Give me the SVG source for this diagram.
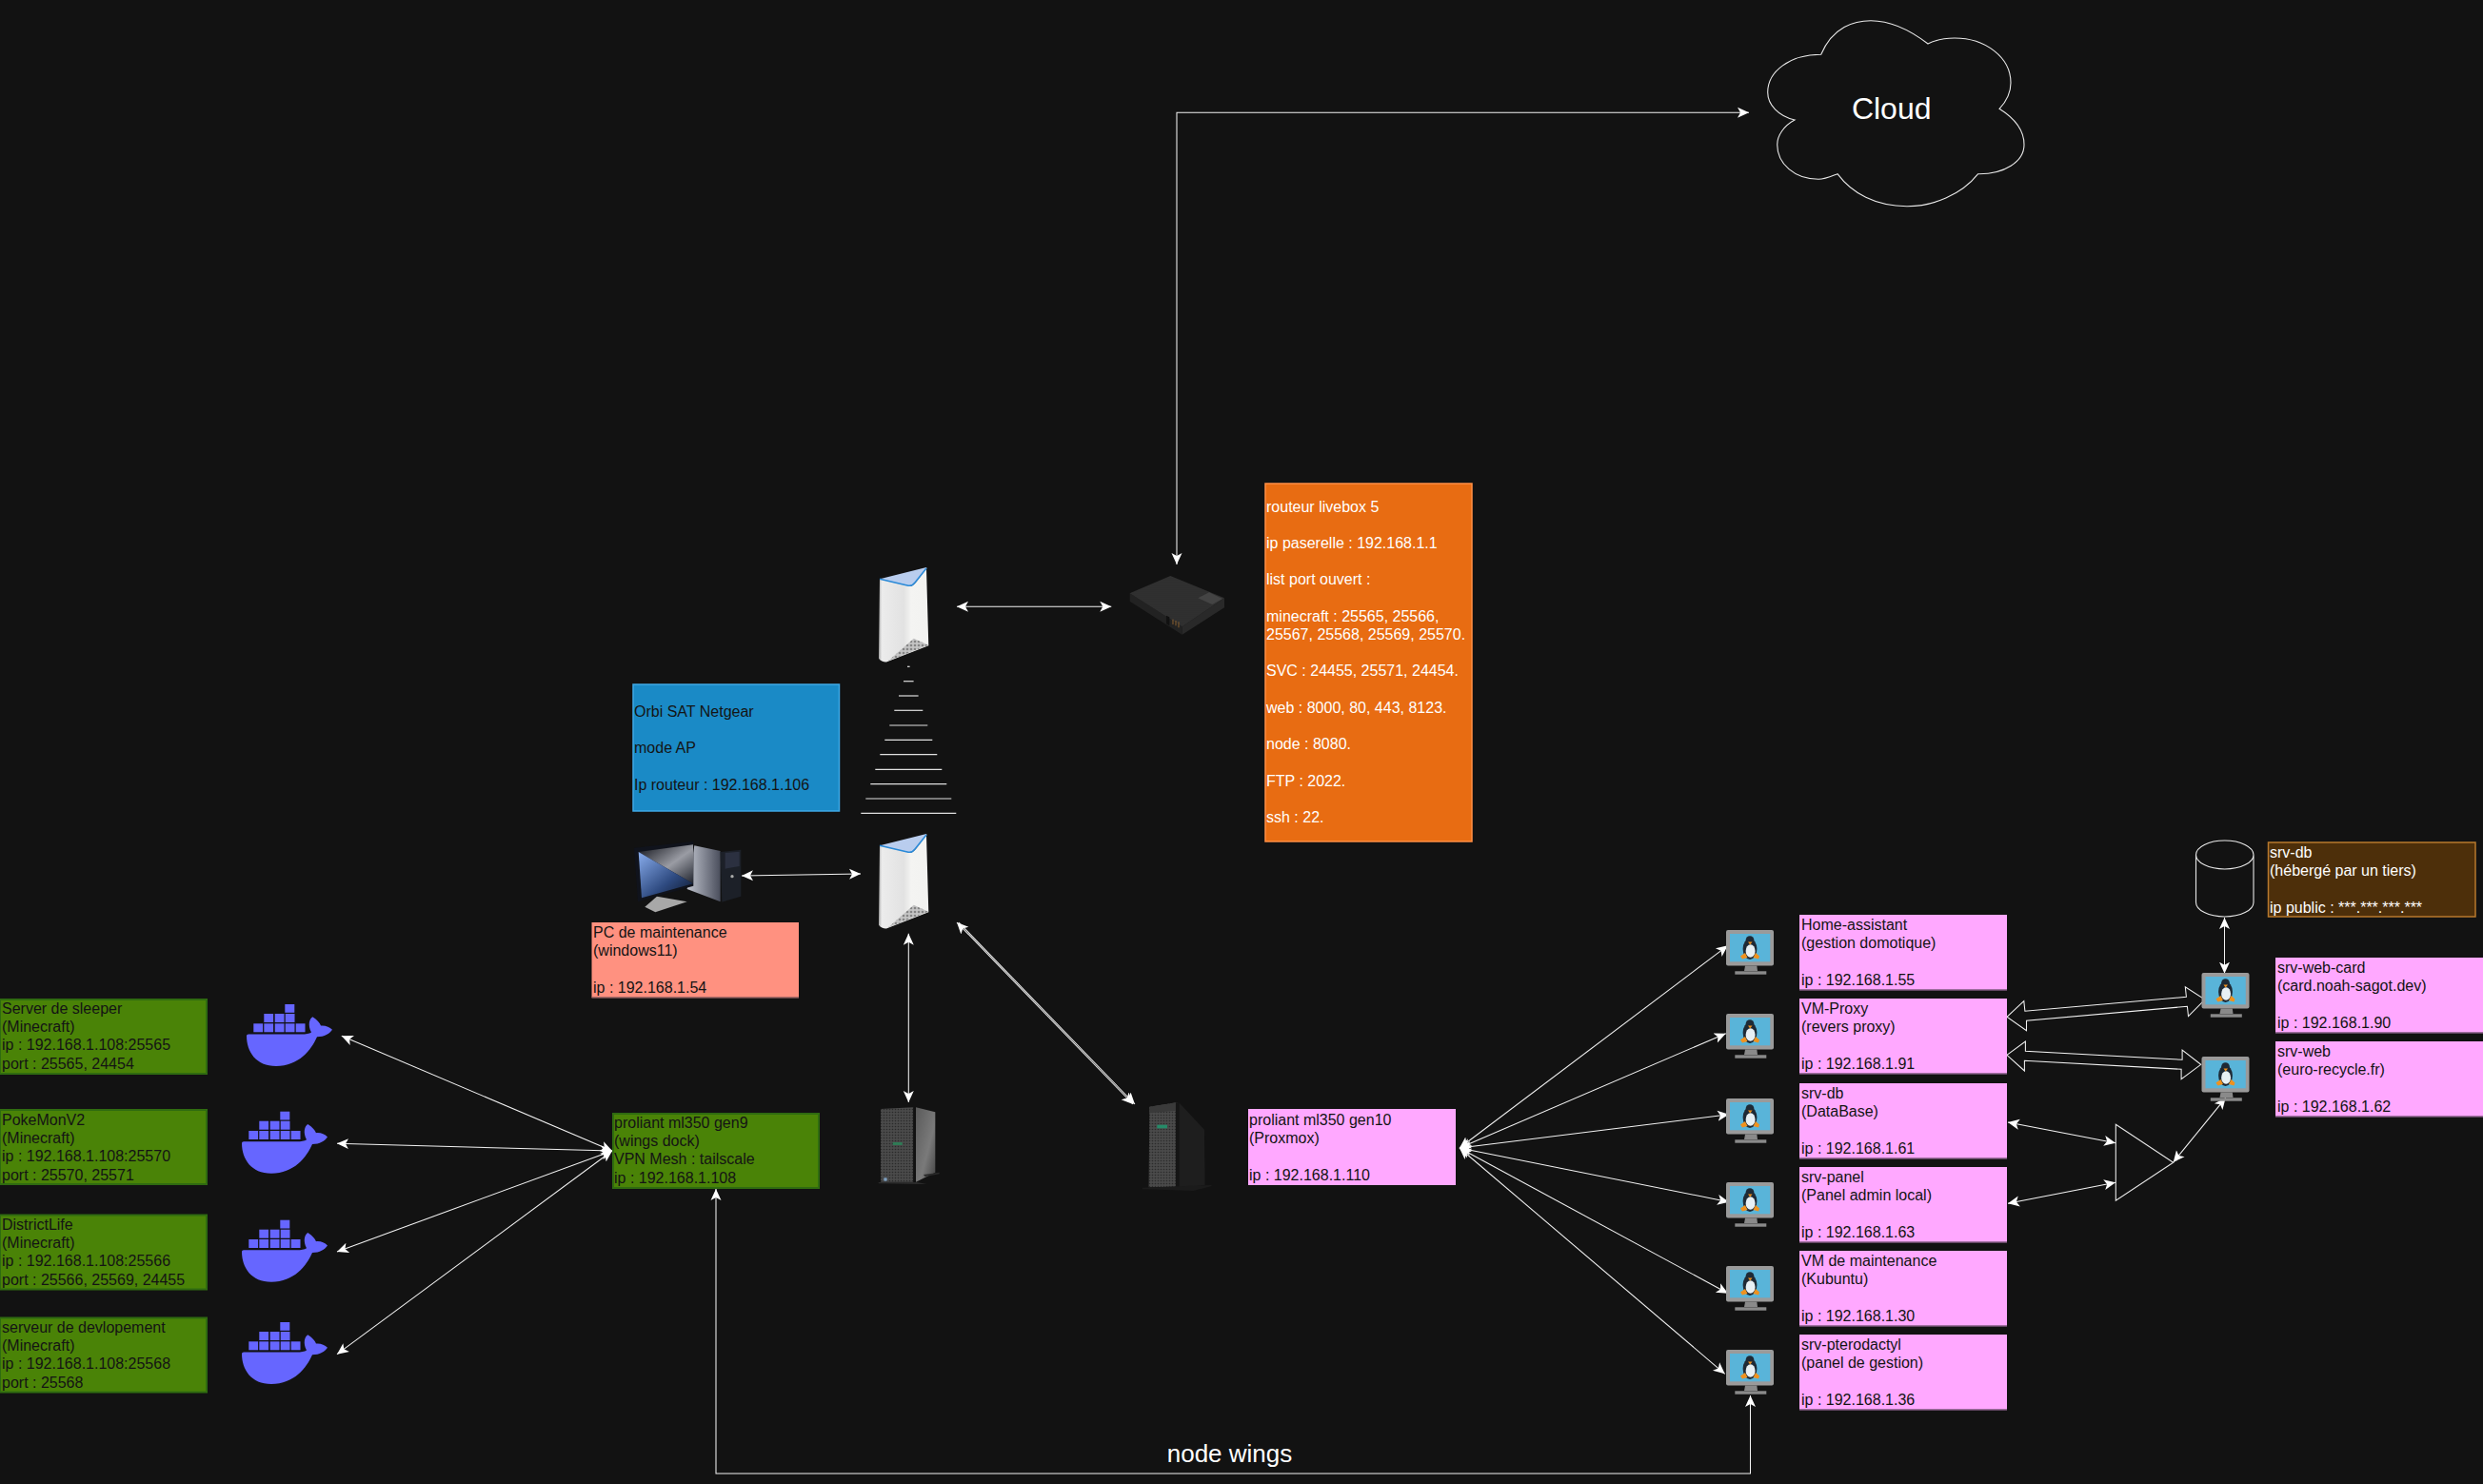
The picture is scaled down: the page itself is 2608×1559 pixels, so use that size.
<svg xmlns="http://www.w3.org/2000/svg" width="2608" height="1559" viewBox="0 0 2608 1559">
<style>
text{font-family:"Liberation Sans",Arial,sans-serif;font-size:16px;fill:#141414}
.w{fill:#fff}
.pink{fill:#ffa8ff;stroke:#8a5c8a;stroke-width:0}
.pb{fill:none;stroke:#7f5a7f;stroke-width:1.5}
.green{fill:#4a8307;stroke:#2f6b10;stroke-width:2}
.c line,.c path{fill:none;stroke:#f2f2f2;stroke-width:1.05}
.a{marker-end:url(#ah);marker-start:url(#ah)}
.e{marker-end:url(#ah)}
.wl line{stroke:#e0e0e0;stroke-width:1.2}
.o{fill:none;stroke:#e8e8e8;stroke-width:1.1}
</style>
<defs>
<marker id="ah" markerUnits="userSpaceOnUse" markerWidth="16" markerHeight="14" refX="12" refY="7" orient="auto-start-reverse"><path d="M0 1.5L12 7L0 12.5L3 7Z" fill="#fff"/></marker>
<pattern id="mesh" width="4" height="4" patternUnits="userSpaceOnUse"><rect width="4" height="4" fill="#c4c4c4"/><circle cx="2" cy="2" r="1.3" fill="#858585"/></pattern>
<pattern id="dots" width="6" height="6" patternUnits="userSpaceOnUse"><rect width="6" height="6" fill="#303030"/><circle cx="3" cy="3" r="1.2" fill="#282828"/></pattern>
<pattern id="srv" width="9" height="9" patternUnits="userSpaceOnUse"><rect width="9" height="9" fill="#4a4a4a"/><circle cx="4.5" cy="4.5" r="2.4" fill="#2a2a2a"/></pattern>
<linearGradient id="rb" x1="0" x2="1" y1="0" y2="0"><stop offset="0" stop-color="#a8a8a8"/><stop offset=".06" stop-color="#ececec"/><stop offset=".5" stop-color="#e2e2e2"/><stop offset=".65" stop-color="#f4f4f2"/><stop offset="1" stop-color="#f2f2f0"/></linearGradient>
<linearGradient id="scr" x1="0" y1="0" x2="1" y2="1"><stop offset="0" stop-color="#8aaeee"/><stop offset=".6" stop-color="#2e4a80"/><stop offset="1" stop-color="#0c1526"/></linearGradient>
<linearGradient id="scr2" x1="0" y1="0" x2="1" y2="1"><stop offset="0" stop-color="#0d0f16"/><stop offset=".55" stop-color="#9a9ca4"/><stop offset="1" stop-color="#20242e"/></linearGradient>
<linearGradient id="tow" x1="0" x2="1" y1="0" y2="0"><stop offset="0" stop-color="#c0c4ce"/><stop offset="1" stop-color="#4a4e5c"/></linearGradient>
<linearGradient id="side" x1="0" x2="1" y1="0" y2="1"><stop offset="0" stop-color="#5a5a5a"/><stop offset=".6" stop-color="#7a7a7a"/><stop offset="1" stop-color="#444"/></linearGradient>
<symbol id="router" overflow="visible">
<path d="M1 12.3L34 19.7Q38 19 50 .7L52.3 82.3L8 99.5Q3 99.7 0 95.7Z" fill="url(#rb)"/>
<path d="M1 12.3L50 0Q51 1 50 2Q40 16 35 19Q34 20 31 19.2Z" fill="#b9cdee"/>
<path d="M1 12.3L31 19.2Q35 20 38 16L50 1" fill="none" stroke="#2a8ad8" stroke-width="1.5"/>
<path d="M10 98.3L36.7 74.7L52.3 81.7Z" fill="url(#mesh)"/>
</symbol>
<symbol id="linux" overflow="visible">
<rect width="50" height="37.5" rx="2" fill="#9a9a9a"/>
<rect x="4" y="4" width="42.3" height="29.3" fill="#59b4d9"/>
<path d="M20 37.5H32.3L33 43H19Z" fill="#8a8a8a"/>
<rect x="9.3" y="43.3" width="33" height="3.4" fill="#8a8a8a"/>
<ellipse cx="25" cy="20" rx="7.4" ry="11" fill="#1e2a36"/>
<ellipse cx="25" cy="11" rx="4.4" ry="4.8" fill="#1e2a36"/>
<ellipse cx="25.6" cy="22" rx="5" ry="6.8" fill="#e8f0f4"/>
<path d="M23 12.5H27.5L25.2 15.5Z" fill="#f0921e"/>
<path d="M15 27.5L20 24L22.5 29L17 30.5Z" fill="#f0921e"/>
<path d="M35 27.5L31 24L28.5 29L34 30.5Z" fill="#f0921e"/>
</symbol>
<symbol id="docker" overflow="visible">
<g fill="#6666ff">
<rect x="40.3" width="10" height="8.8"/>
<rect x="18.3" y="10" width="9.8" height="9"/><rect x="29.7" y="10" width="9.8" height="9"/><rect x="40.7" y="10" width="9.8" height="9"/>
<rect x="7.3" y="20.3" width="9.8" height="9"/><rect x="18.3" y="20.3" width="9.8" height="9"/><rect x="29.7" y="20.3" width="9.8" height="9"/><rect x="40.7" y="20.3" width="9.8" height="9"/><rect x="51.7" y="20.3" width="9.8" height="9"/>
<path d="M0 33Q0 31.5 2 31.5L58 31.5C62 31.5 66 31 68 29.5C64 22 66 15 69.3 13.3C74 16 77 20 78 22.5C83 22 87 24 90 26.7C87 31 82 34 74 34.3C68 48 55 65 31 65C10 65 0 50 0 33Z"/>
</g>
</symbol>
</defs>
<rect width="2608" height="1559" fill="#121212"/>

<g id="connectors" class="c">
<path class="a" d="M1236 593V118.3H1837"/>
<line class="a" x1="1005" y1="637.3" x2="1167.3" y2="637.3"/>
<line class="a" x1="779" y1="920" x2="904" y2="918"/>
<line class="a" x1="954.3" y1="980.7" x2="954.3" y2="1158"/>
<line class="a" x1="1005" y1="969" x2="1190" y2="1160"/>
<line class="e" x1="1007" y1="969" x2="1192" y2="1160"/>
<line class="a" x1="643" y1="1209" x2="358.8" y2="1088.3"/>
<line class="a" x1="643" y1="1209" x2="354" y2="1201.3"/>
<line class="a" x1="643" y1="1209" x2="354" y2="1315"/>
<line class="a" x1="643" y1="1209" x2="354" y2="1422.7"/>
<path class="a" d="M752 1249V1548H1838.5V1466"/>
<line class="a" x1="1533" y1="1206" x2="1814.8" y2="993.3"/>
<line class="a" x1="1533" y1="1206" x2="1812.7" y2="1085.7"/>
<line class="a" x1="1533" y1="1206" x2="1816" y2="1170.7"/>
<line class="a" x1="1533" y1="1206" x2="1816" y2="1262.7"/>
<line class="a" x1="1533" y1="1206" x2="1815" y2="1358.7"/>
<line class="a" x1="1533" y1="1206" x2="1811.7" y2="1443.3"/>
<line class="a" x1="2336.5" y1="964" x2="2336.5" y2="1022.7"/>
<line class="a" x1="2109" y1="1179" x2="2222" y2="1200.7"/>
<line class="a" x1="2109" y1="1264.3" x2="2222" y2="1242.3"/>
<line class="a" x1="2282.7" y1="1221" x2="2337.7" y2="1153.3"/>
<path d="M2107.9 1068.3L2125.8 1051.7L2126.9 1062.3L2296.4 1047.3L2295.3 1036.7L2315.9 1050L2298.5 1067.7L2297.4 1057.3L2128.5 1072.3L2128.5 1082.7Z"/>
<path d="M2107.9 1108.3L2127.4 1094L2127.4 1104.3L2292.1 1113.3L2292.1 1103L2311.7 1118.3L2291.1 1133.7L2291.1 1123.3L2126.4 1114.3L2126.4 1125Z"/>
</g>

<g id="cloud">
<path class="o" d="M1912.7 57.3C1925 28 1948 21.7 1965 21.7C1990 21.7 2012 36 2025 46C2033 42 2043 40 2053 40C2085 40 2112 60 2112 87C2112 98 2107 107 2100 114.3C2114 123 2126 135 2126 152C2126 170 2105 183 2077.7 182.7C2060 205 2030 216.7 2003 216.7C1970 216.7 1945 203 1930 182.7C1924 185 1917 188.3 1910 188.3C1885 188.3 1866.7 172 1866.7 152C1866.7 142 1874 132 1885 126C1868 122 1856.7 110 1856.7 97C1856.7 75 1880 57.3 1912.7 57.3Z"/>
<text class="w" x="1986.7" y="125" text-anchor="middle" style="font-size:32px">Cloud</text>
</g>

<g id="livebox-icon" transform="translate(1160 580) scale(.3333)">
<path d="M80 130L245 235V260L80 155Z" fill="#222"/>
<path d="M245 235L378 145V175L245 260Z" fill="#292929"/>
<path d="M80 130L208 75L378 145L245 235Z" fill="url(#dots)"/>
<path d="M295 145L330 127L372 147L340 165Z" fill="#444"/>
<path d="M195 200L205 205V232L195 226Z" fill="#111"/>
<path d="M216 212V228M225 216V232M234 220V238" stroke="#8a6030" stroke-width="3"/>
</g>
<g id="livebox">
<rect x="1329" y="508" width="217" height="376" fill="#e86c12" stroke="#ff8f45" stroke-width="1.5"/>
<text class="w" y="537.5"><tspan x="1330">routeur livebox 5</tspan><tspan x="1330" dy="38.4">ip paserelle : 192.168.1.1</tspan><tspan x="1330" dy="38.4">list port ouvert :</tspan><tspan x="1330" dy="38.4">minecraft : 25565, 25566,</tspan><tspan x="1330" dy="19.2">25567, 25568, 25569, 25570.</tspan><tspan x="1330" dy="38.4">SVC : 24455, 25571, 24454.</tspan><tspan x="1330" dy="38.4">web : 8000, 80, 443, 8123.</tspan><tspan x="1330" dy="38.4">node : 8080.</tspan><tspan x="1330" dy="38.4">FTP : 2022.</tspan><tspan x="1330" dy="38.4">ssh : 22.</tspan></text>
</g>

<g id="router-top"><use href="#router" x="923" y="596"/></g>
<g id="router-bottom"><use href="#router" x="923" y="876"/></g>
<g id="wireless" class="wl">
<line x1="953" x2="955.6" y1="700.3" y2="700.3"/><line x1="949" x2="959.6" y1="715.7" y2="715.7"/><line x1="944" x2="964.6" y1="731" y2="731"/><line x1="939.3" x2="969.3" y1="746.3" y2="746.3"/><line x1="934.3" x2="974.3" y1="762" y2="762"/><line x1="929.3" x2="979.3" y1="777.3" y2="777.3"/><line x1="924.3" x2="984.3" y1="792.7" y2="792.7"/><line x1="919.3" x2="989.3" y1="808.3" y2="808.3"/><line x1="914.3" x2="994.3" y1="823.7" y2="823.7"/><line x1="909.3" x2="999.3" y1="839" y2="839"/><line x1="904.3" x2="1004.3" y1="854.3" y2="854.3"/>
</g>
<g id="orbi">
<rect x="665" y="719" width="216.5" height="133" fill="#1a8ac6" stroke="#3fa9e6" stroke-width="1.5"/>
<text y="753"><tspan x="666">Orbi SAT Netgear</tspan><tspan x="666" dy="38.4">mode AP</tspan><tspan x="666" dy="38.4">Ip routeur : 192.168.1.106</tspan></text>
</g>

<g id="pc-icon" transform="translate(640 860) scale(.3333)">
<path d="M112 278L150 245L245 262L145 295Z" fill="#a8a8a8"/>
<path d="M245 222L268 85L350 102V262Z" fill="url(#tow)"/>
<path d="M350 105L415 98V245L355 263Z" fill="#1c2028"/>
<path d="M365 108L410 104V150L365 158Z" fill="#2b3040"/>
<circle cx="387" cy="182" r="5" fill="#aaa"/>
<path d="M78 92L265 72V212L90 262Z" fill="#10131c"/>
<path d="M92 105L264 82V205Z" fill="url(#scr2)"/>
<path d="M92 105L264 205L102 250Z" fill="url(#scr)"/>
</g>
<g id="pc">
<rect x="621.5" y="969" width="217.5" height="79" fill="#ff9180"/>
<line x1="621.5" x2="839" y1="1048" y2="1048" stroke="#8a5c5c" stroke-width="1.5"/>
<text y="985"><tspan x="623">PC de maintenance</tspan><tspan x="623" dy="19.2">(windows11)</tspan><tspan x="623" dy="38.4">ip : 192.168.1.54</tspan></text>
</g>

<g id="server-gen9" transform="translate(900 1140) scale(.3333)">
<path d="M186 70L247 85V275L186 305Z" fill="url(#side)"/>
<path d="M75 75L178 70V305H75Z" fill="url(#srv)"/>
<rect x="178" y="70" width="8" height="235" fill="#111"/>
<rect x="113" y="180" width="30" height="9" fill="#2f7a55"/>
<rect x="85" y="292" width="10" height="10" fill="#7fa0c0"/>
<path d="M68 306H190L220 312H190L68 310ZM210 282L260 275V280L215 288Z" fill="#2a2a2a"/>
</g>
<g id="server-gen10" transform="translate(900 1140) scale(.3333)">
<path d="M1015 55L1095 140L1097 315L1015 325Z" fill="#1e1e1e"/>
<path d="M922 68L1005 55V320L920 322Z" fill="url(#srv)"/>
<path d="M922 68L1010 55L1008 80L922 88Z" fill="#3a3a3a"/>
<rect x="1005" y="55" width="10" height="268" fill="#151515"/>
<rect x="946" y="125" width="32" height="11" fill="#268a68"/>
<path d="M900 323L1118 315V318L1060 333L900 328Z" fill="#1b1b1b"/>
</g>

<g id="proxmox">
<rect class="pink" x="1311" y="1165" width="218" height="80"/>
<text y="1182"><tspan x="1312">proliant ml350 gen10</tspan><tspan x="1312" dy="19.2">(Proxmox)</tspan><tspan x="1312" dy="38.4">ip : 192.168.1.110</tspan></text>
</g>
<g id="wings">
<rect class="green" x="644" y="1170" width="216" height="78"/>
<text y="1185"><tspan x="645">proliant ml350 gen9</tspan><tspan x="645" dy="19.2">(wings dock)</tspan><tspan x="645" dy="19.2">VPN Mesh : tailscale</tspan><tspan x="645" dy="19.2">ip : 192.168.1.108</tspan></text>
</g>

<g id="docker-sleeper"><use href="#docker" x="259" y="1055"/><rect class="green" x="0" y="1050" width="217" height="78"/><text y="1065"><tspan x="2">Server de sleeper</tspan><tspan x="2" dy="19.2">(Minecraft)</tspan><tspan x="2" dy="19.2">ip : 192.168.1.108:25565</tspan><tspan x="2" dy="19.2">port : 25565, 24454</tspan></text></g>
<g id="docker-pokemon"><use href="#docker" x="254" y="1167.7"/><rect class="green" x="0" y="1166" width="217" height="78"/><text y="1182"><tspan x="2">PokeMonV2</tspan><tspan x="2" dy="19.2">(Minecraft)</tspan><tspan x="2" dy="19.2">ip : 192.168.1.108:25570</tspan><tspan x="2" dy="19.2">port : 25570, 25571</tspan></text></g>
<g id="docker-district"><use href="#docker" x="254" y="1281.7"/><rect class="green" x="0" y="1276.5" width="217" height="78"/><text y="1292"><tspan x="2">DistrictLife</tspan><tspan x="2" dy="19.2">(Minecraft)</tspan><tspan x="2" dy="19.2">ip : 192.168.1.108:25566</tspan><tspan x="2" dy="19.2">port : 25566, 25569, 24455</tspan></text></g>
<g id="docker-dev"><use href="#docker" x="254" y="1389"/><rect class="green" x="0" y="1384.5" width="217" height="78"/><text y="1400"><tspan x="2">serveur de devlopement</tspan><tspan x="2" dy="19.2">(Minecraft)</tspan><tspan x="2" dy="19.2">ip : 192.168.1.108:25568</tspan><tspan x="2" dy="19.2">port : 25568</tspan></text></g>

<g id="vm-home"><use href="#linux" x="1813" y="977"/><rect class="pink" x="1890" y="961" width="218" height="79"/><line class="pb" x1="1890" x2="2108" y1="1040" y2="1040"/><text y="977"><tspan x="1892">Home-assistant</tspan><tspan x="1892" dy="19.2">(gestion domotique)</tspan><tspan x="1892" dy="38.4">ip : 192.168.1.55</tspan></text></g>
<g id="vm-proxy"><use href="#linux" x="1813" y="1065"/><rect class="pink" x="1890" y="1049" width="218" height="79"/><line class="pb" x1="1890" x2="2108" y1="1128" y2="1128"/><text y="1065"><tspan x="1892">VM-Proxy</tspan><tspan x="1892" dy="19.2">(revers proxy)</tspan><tspan x="1892" dy="38.4">ip : 192.168.1.91</tspan></text></g>
<g id="vm-db"><use href="#linux" x="1813" y="1154"/><rect class="pink" x="1890" y="1138" width="218" height="79"/><line class="pb" x1="1890" x2="2108" y1="1217" y2="1217"/><text y="1154"><tspan x="1892">srv-db</tspan><tspan x="1892" dy="19.2">(DataBase)</tspan><tspan x="1892" dy="38.4">ip : 192.168.1.61</tspan></text></g>
<g id="vm-panel"><use href="#linux" x="1813" y="1242"/><rect class="pink" x="1890" y="1226" width="218" height="79"/><line class="pb" x1="1890" x2="2108" y1="1305" y2="1305"/><text y="1242"><tspan x="1892">srv-panel</tspan><tspan x="1892" dy="19.2">(Panel admin local)</tspan><tspan x="1892" dy="38.4">ip : 192.168.1.63</tspan></text></g>
<g id="vm-maint"><use href="#linux" x="1813" y="1330"/><rect class="pink" x="1890" y="1314" width="218" height="79"/><line class="pb" x1="1890" x2="2108" y1="1393" y2="1393"/><text y="1330"><tspan x="1892">VM de maintenance</tspan><tspan x="1892" dy="19.2">(Kubuntu)</tspan><tspan x="1892" dy="38.4">ip : 192.168.1.30</tspan></text></g>
<g id="vm-ptero"><use href="#linux" x="1813" y="1418"/><rect class="pink" x="1890" y="1402" width="218" height="79"/><line class="pb" x1="1890" x2="2108" y1="1481" y2="1481"/><text y="1418"><tspan x="1892">srv-pterodactyl</tspan><tspan x="1892" dy="19.2">(panel de gestion)</tspan><tspan x="1892" dy="38.4">ip : 192.168.1.36</tspan></text></g>

<g id="vm-web-card"><use href="#linux" x="2312.5" y="1022"/><rect class="pink" x="2390" y="1006" width="218" height="79"/><line class="pb" x1="2390" x2="2608" y1="1085" y2="1085"/><text y="1022"><tspan x="2392">srv-web-card</tspan><tspan x="2392" dy="19.2">(card.noah-sagot.dev)</tspan><tspan x="2392" dy="38.4">ip : 192.168.1.90</tspan></text></g>
<g id="vm-web"><use href="#linux" x="2312.5" y="1110"/><rect class="pink" x="2390" y="1094" width="218" height="79"/><line class="pb" x1="2390" x2="2608" y1="1173" y2="1173"/><text y="1110"><tspan x="2392">srv-web</tspan><tspan x="2392" dy="19.2">(euro-recycle.fr)</tspan><tspan x="2392" dy="38.4">ip : 192.168.1.62</tspan></text></g>

<g id="hosted-db">
<path class="o" d="M2306.5 898C2306.5 889.7 2320 883 2336.7 883S2367 889.7 2367 898V948C2367 956.3 2353.4 963 2336.7 963S2306.5 956.3 2306.5 948ZM2306.5 898C2306.5 906.3 2320 913 2336.7 913S2367 906.3 2367 898"/>
<rect x="2382.5" y="885" width="217.5" height="78" fill="#4d2f0a" stroke="#b8792d" stroke-width="1.5"/>
<text class="w" y="901"><tspan x="2384">srv-db</tspan><tspan x="2384" dy="19.2">(hébergé par un tiers)</tspan><tspan x="2384" dy="38.4">ip public : ***.***.***.***</tspan></text>
</g>
<g id="switch"><path class="o" d="M2222.3 1181.3L2282.7 1221.3L2222.3 1261.3Z"/></g>
<g id="label-wings"><text class="w" x="1291.5" y="1536" text-anchor="middle" style="font-size:26px">node wings</text></g>
</svg>
